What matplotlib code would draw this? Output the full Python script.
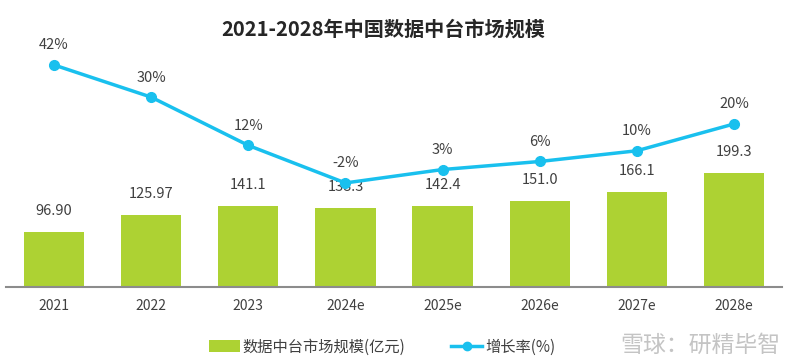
import matplotlib
matplotlib.use("Agg")
import matplotlib.pyplot as plt
from matplotlib.patches import Patch
from matplotlib.lines import Line2D

plt.rcParams['font.family'] = ['Noto Sans CJK SC', 'DejaVu Sans']

years = ['2021', '2022', '2023', '2024e', '2025e', '2026e', '2027e', '2028e']
market_size = [96.90, 125.97, 141.1, 138.3, 142.4, 151.0, 166.1, 199.3]
size_labels = ['96.90', '125.97', '141.1', '138.3', '142.4', '151.0', '166.1', '199.3']
growth = [42, 30, 12, -2, 3, 6, 10, 20]

bar_color = '#add233'
line_color = '#19c0ee'
text_color = '#404040'

fig = plt.figure(figsize=(8.0, 3.61), dpi=100)
W, H = 800, 361
left, right, top_px, bot_px = 6, 782, 40, 287
ax = fig.add_axes([left / W, (H - bot_px) / H, (right - left) / W, (bot_px - top_px) / H])
x = list(range(len(years)))
ax.bar(x, market_size, width=0.62, color=bar_color, zorder=2)
ax.set_xlim(-0.494, 7.494)
ax.set_ylim(0, 432)
for s in ['top', 'right', 'left']:
    ax.spines[s].set_visible(False)
ax.spines['bottom'].set_color('#8c8c8c')
ax.spines['bottom'].set_linewidth(1.5)
ax.set_yticks([])
ax.set_xticks(x)
ax.set_xticklabels(years, fontsize=10, color=text_color)
ax.tick_params(axis='x', length=0, pad=9)
for xi, v, lab in zip(x, market_size, size_labels):
    ax.annotate(lab, (xi, v), xytext=(0, 10), textcoords='offset points',
                ha='center', va='bottom', fontsize=10.5, color=text_color)

ax2 = ax.twinx()
ax2.plot(x, growth, color=line_color, linewidth=2.5, marker='o', markersize=7, zorder=3)
ax2.set_ylim(-40.8, 51.3)
ax2.set_yticks([])
for s in ['top', 'right', 'left', 'bottom']:
    ax2.spines[s].set_visible(False)
for xi, v in zip(x, growth):
    ax2.annotate(f'{v}%', (xi, v), xytext=(0, 9), textcoords='offset points',
                 ha='center', va='bottom', fontsize=10.5, color=text_color)

fig.text(383 / W, 1 - 29 / H, '2021-2028年中国数据中台市场规模', ha='center', va='center',
         fontsize=14.5, fontweight='bold', color='#262626')

handles = [Patch(facecolor=bar_color, edgecolor='none'),
           Line2D([0], [0], color=line_color, linewidth=2.5, marker='o', markersize=6)]
fig.legend(handles, ['数据中台市场规模(亿元)', '增长率(%)'], loc='center',
           bbox_to_anchor=(382 / W, 1 - 347 / H), ncol=2, frameon=False,
           fontsize=11, handlelength=2.0, handleheight=0.8, handletextpad=0.2,
           columnspacing=3.0, labelcolor=text_color)

fig.text(700 / W, 1 - 345 / H, '雪球：研精毕智', ha='center', va='center',
         fontsize=16.5, color='#c4c4c4')

fig.savefig('out.png', dpi=100)
